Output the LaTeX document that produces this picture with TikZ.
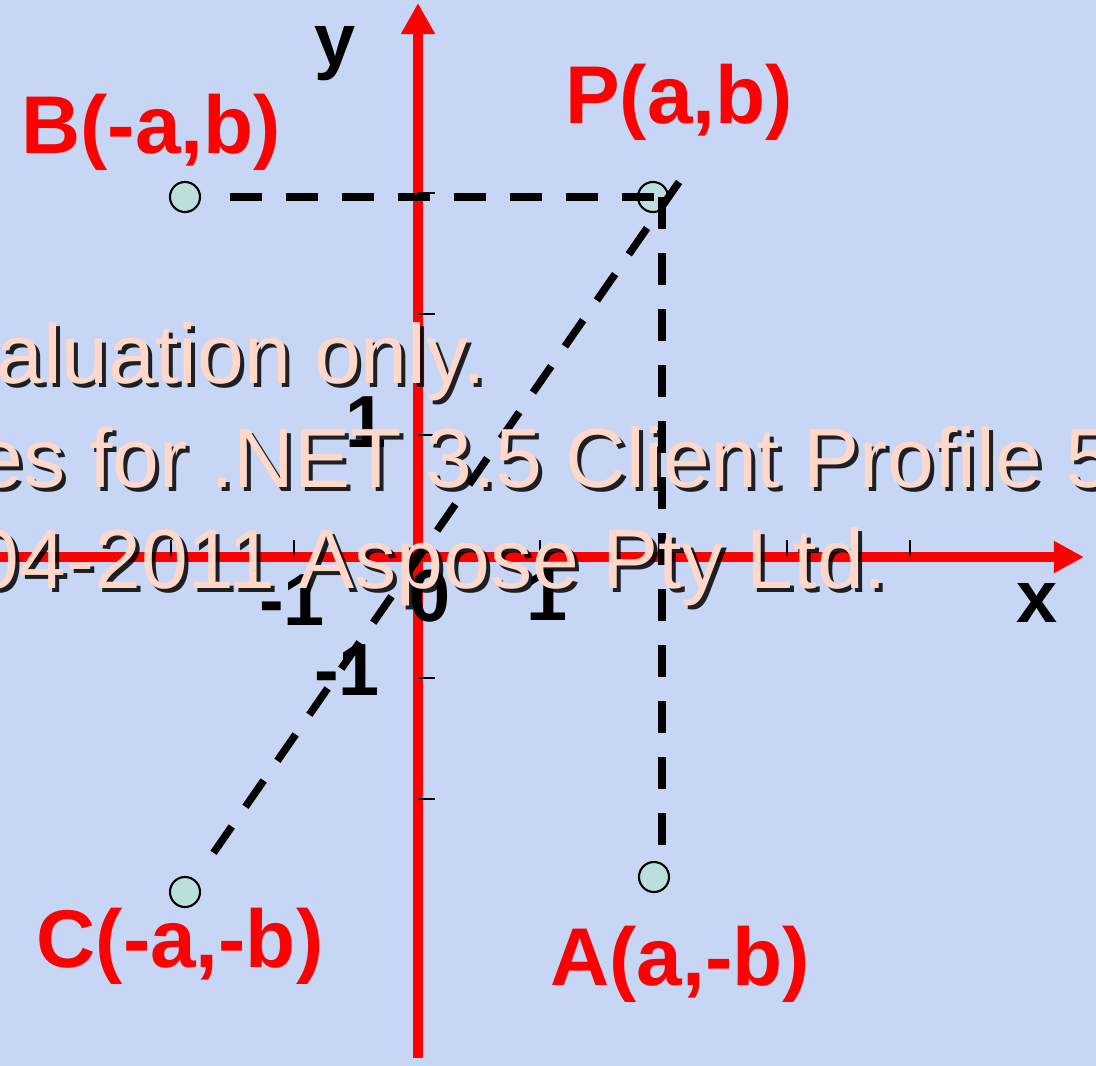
\documentclass[tikz,border=0pt]{standalone}
\usepackage{fontspec}
\setmainfont{Liberation Sans}
\usetikzlibrary{arrows.meta}
\definecolor{paper}{RGB}{198,214,244}
\definecolor{axisred}{RGB}{255,0,0}
\definecolor{dotfill}{RGB}{186,223,221}
\definecolor{peach}{RGB}{255,216,202}

\tikzset{
  axisline/.style={draw=axisred, line width=0.105cm},
  tickmark/.style={draw=black, line width=0.5pt},
  guide/.style={draw=black, line width=0.075cm, dash pattern=on 0.32cm off 0.24cm},
  pointdot/.style={circle, draw=black, line width=0.6pt, fill=dotfill, minimum size=0.3cm, inner sep=0pt},
  ptlabel/.style={anchor=base, inner sep=0pt, text=axisred, font=\bfseries\fontsize{23.3}{28}\selectfont},
  numlabel/.style={anchor=base, inner sep=0pt, text=black, font=\bfseries\fontsize{21}{25}\selectfont},
  wmtext/.style={anchor=base, inner sep=0pt, font=\fontsize{23.9}{29}\selectfont}
}

\begin{document}
\begin{tikzpicture}[x=0.01cm, y=-0.01cm]
  \fill[paper] (0,0) rectangle (1096,1066);
  \useasboundingbox (0,0) rectangle (1096,1066);
  \clip (0,0) rectangle (1096,1066);

  % axes
  \coordinate (xstart) at (0,557);
  \coordinate (xend) at (1084,557);
  \coordinate (ystart) at (418,1058);
  \coordinate (yend) at (418,3);
  \draw[axisline, -{Triangle[length=0.30cm, width=0.30cm]}] (xstart) -- (xend);
  \draw[axisline, -{Triangle[length=0.31cm, width=0.32cm]}] (ystart) -- (yend);
  \foreach \tx in {171,294,540,664,787,910}
    \draw[tickmark] (\tx,540) -- (\tx,556);
  \foreach \ty in {193,314,435,678,799}
    \draw[tickmark] (418,\ty) -- (435,\ty);

  % the four points
  \node[pointdot] (P) at (653,197) {};
  \node[pointdot] (B) at (185,197) {};
  \node[pointdot] (C) at (185,892) {};
  \node[pointdot] (A) at (654,877) {};

  % dashed guides
  \coordinate (hgStart) at (230,197);
  \coordinate (hgEnd) at (654,197);
  \coordinate (vgStart) at (662,197);
  \coordinate (vgEnd) at (662,845);
  \coordinate (dgStart) at (679,182);
  \coordinate (dgEnd) at (212,855);
  \draw[guide] (hgStart) -- (hgEnd);
  \draw[guide] (vgStart) -- (vgEnd);
  \draw[guide] (dgStart) -- (dgEnd);

  \node[ptlabel] (Plabel) at (679,123) {P(a,b)};
  \node[ptlabel] (Blabel) at (151,153) {B(-a,b)};
  \node[ptlabel] (Clabel) at (180,967) {C(-a,-b)};
  \node[ptlabel] (Alabel) at (680,985) {A(a,-b)};

  \node[numlabel] (ylabel) at (335,65) {y};
  \node[numlabel] (xlabel) at (1037,622) {x};
  \node[numlabel] (yone) at (366,447) {1};
  \node[numlabel] (ymone) at (347,695) {-1};
  \node[numlabel] (zero) at (430,621) {0};
  \node[numlabel] (xone) at (547,620) {1};
  \node[numlabel] (xmone) at (292,625) {-1};

  % watermark
  \foreach \wy/\wline [count=\i] in {383/Evaluation only., 487/Created with Aspose.Slides for .NET 3.5 Client Profile 5.2.0.0., 588/Copyright 2004-2011 Aspose Pty Ltd.} {
    \node[wmtext, text=black, opacity=0.85] (wmshadow\i) at (196,\wy+4) {\wline};
    \node[wmtext, text=peach] (wm\i) at (192,\wy) {\wline};
  }
\end{tikzpicture}
\end{document}
